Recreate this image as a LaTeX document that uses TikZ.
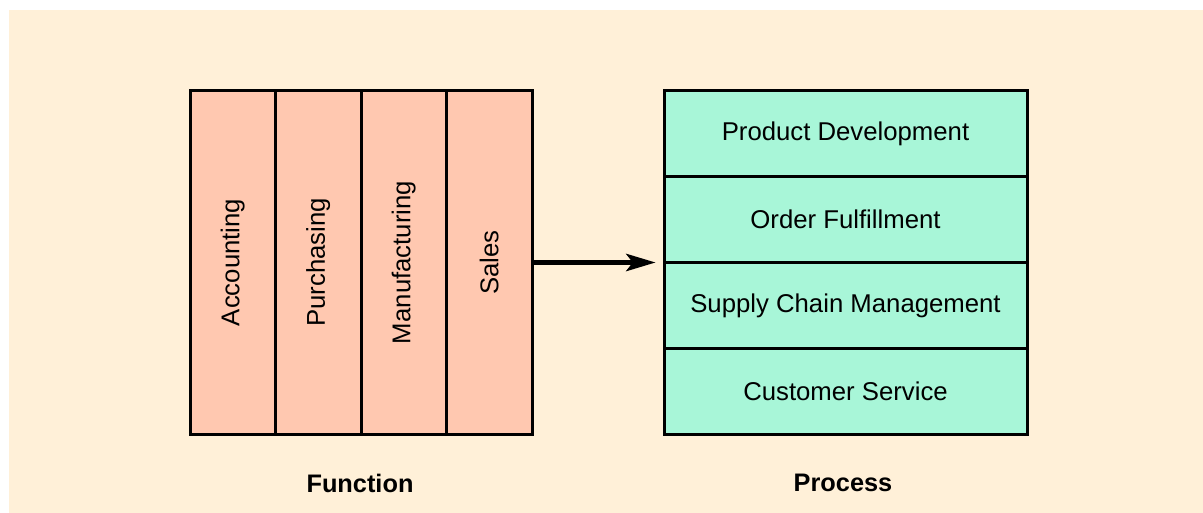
\documentclass[tikz,border=0pt]{standalone}
\usepackage{fontspec}
\setmainfont{Liberation Sans}
\usetikzlibrary{arrows.meta}

\definecolor{bgcream}{RGB}{255,240,216}
\definecolor{funcpink}{RGB}{255,200,176}
\definecolor{procgreen}{RGB}{168,246,216}

\tikzset{every picture/.style={line width=2.25pt}}
\tikzset{
	boxfont/.style={font=\fontsize{19.3}{23}\selectfont},
	funccol/.style={draw=black, fill=funcpink, rotate=90, boxfont,
		minimum width=257.25pt, minimum height=64.125pt, inner sep=0pt},
	procrow/.style={draw=black, fill=procgreen, boxfont,
		minimum width=272.25pt, minimum height=64.3125pt, inner sep=0pt},
	caption/.style={font=\fontsize{19}{23}\selectfont\bfseries, inner sep=0.75pt},
	flowarrow/.style={line width=3.2pt, -{Stealth[length=22pt, width=13pt, inset=5pt]}}}

\begin{document}
\begin{tikzpicture}[x=0.75pt,y=0.75pt,yscale=-1,xscale=1]
	\useasboundingbox (0,0) rectangle (1203,513);
	% background panel
	\fill [bgcream] (9,10) rectangle (1203,513);
	
	% function columns (rotated, so text runs upward)
	\node [funccol] (acc) at (232.75,262.5) {Accounting};
	\node [funccol] (pur) at (318.25,262.5) {Purchasing};
	\node [funccol] (man) at (403.75,262.5) {Manufacturing};
	\node [funccol] (sal) at (489.25,262.5) {Sales};
	
	% process rows
	\node [procrow] (pd) at (845.5,133.875) {Product Development};
	\node [procrow] (of) at (845.5,219.625) {Order Fulfillment};
	\node [procrow] (scm) at (845.5,305.375) {Supply Chain Management};
	\node [procrow] (cs) at (845.5,391.125) {Customer Service};
	
	% arrow: south of a rotated column is its right side
	\draw [flowarrow, shorten >=5.25pt] (sal.south) -- (sal.south -| of.west);
	
	% Text Node
	\node [caption] (func) at (360,483) {Function};
	% Text Node
	\node [caption] (proc) at (843,483) {Process};
\end{tikzpicture}
\end{document}
